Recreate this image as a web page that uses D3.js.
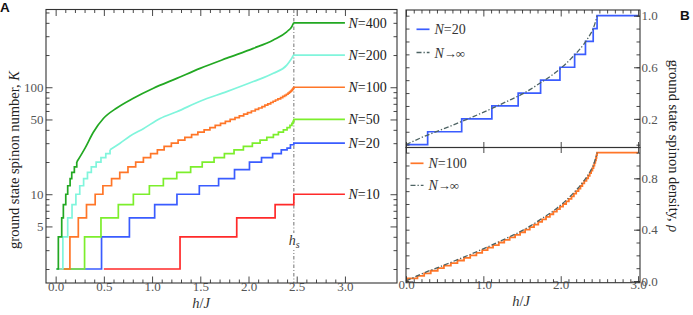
<!DOCTYPE html>
<html>
<head>
<meta charset="utf-8">
<script src="https://cdn.jsdelivr.net/npm/d3@7"></script>
<style>
  body { margin: 0; background: #fff; }
  svg { display: block; font-family: "Liberation Serif", serif; }
</style>
</head>
<body>
<svg id="chart" width="693" height="315"></svg>
<script>
// saturation field h_s / J
var hS = 2.47;

// panel A: ground state spinon number K vs h/J, each pair is [h, K] where a level starts
var kN10 = [[0.5, 2], [1.29, 4], [1.878, 6], [2.276, 8], [2.47, 10], [3.0, 10]];
var kN20 = [[0.01, 2], [0.476, 4], [0.765, 6], [1.027, 8], [1.258, 10], [1.49, 12], [1.69, 14],
  [1.855, 17], [2.01, 20], [2.135, 22], [2.25, 24], [2.34, 26], [2.40, 27], [2.435, 29],
  [2.47, 30], [3.0, 30]];
var kN50 = [[0.01, 2], [0.30, 4], [0.47, 6], [0.65, 8], [0.806, 10], [0.972, 12], [1.117, 14],
  [1.256, 16], [1.40, 18], [1.52, 20], [1.643, 22], [1.75, 24], [1.85, 26], [1.947, 28],
  [2.04, 30], [2.12, 32], [2.19, 34], [2.258, 36], [2.31, 38], [2.362, 40], [2.40, 42],
  [2.43, 44], [2.45, 46], [2.462, 48], [2.47, 50], [3.0, 50]];
var kN100 = [[0, 0], [0.02, 2], [0.148, 4], [0.235, 6], [0.32, 8], [0.41, 10], [0.49, 12],
  [0.58, 14], [0.665, 16], [0.75, 18], [0.83, 20], [0.91, 22], [0.985, 24], [1.055, 26],
  [1.125, 28], [1.20, 30], [1.27, 32], [1.34, 34], [1.41, 36], [1.475, 38], [1.54, 40],
  [1.60, 42], [1.655, 44], [1.71, 46], [1.76, 48], [1.81, 50], [1.86, 52], [1.905, 54],
  [1.95, 56], [1.99, 58], [2.03, 60], [2.07, 62], [2.105, 64], [2.14, 66], [2.17, 68],
  [2.20, 70], [2.23, 72], [2.255, 74], [2.28, 76], [2.305, 78], [2.333, 80], [2.355, 82],
  [2.375, 84], [2.393, 86], [2.41, 88], [2.424, 90], [2.436, 92], [2.447, 94], [2.456, 96],
  [2.463, 98], [2.47, 100], [3.0, 100]];
var kN200Steps = [[0.01, 2], [0.075, 4], [0.125, 6], [0.17, 8], [0.21, 10], [0.25, 12],
  [0.29, 14], [0.33, 16], [0.37, 18], [0.42, 20], [0.47, 22], [0.52, 24], [0.564, 26]];
var kN200Curve = [[0.564, 26], [0.668, 30], [0.772, 35], [0.91, 41], [1.083, 51], [1.256, 59],
  [1.498, 74], [1.775, 91], [2.05, 113], [2.258, 135], [2.397, 161], [2.449, 187],
  [2.47, 200], [3.0, 200]];
var kN400Steps = [[0.01, 2], [0.028, 4], [0.063, 6], [0.08, 8], [0.105, 10], [0.125, 12],
  [0.15, 14], [0.167, 16], [0.194, 18], [0.219, 20]];
var kN400Curve = [[0.219, 20], [0.305, 27], [0.391, 38], [0.495, 51], [0.634, 64], [0.806, 79],
  [1.014, 98], [1.256, 121], [1.498, 150], [1.775, 187], [2.05, 231], [2.258, 277],
  [2.397, 330], [2.449, 368], [2.47, 400], [3.0, 400]];

// panel B: spinon density rho
var rhoN20 = [[0, 0], [0.28, 0.1], [0.72, 0.2], [1.11, 0.3], [1.45, 0.4], [1.74, 0.5],
  [1.99, 0.6], [2.18, 0.7], [2.32, 0.8], [2.42, 0.9], [2.47, 1.0], [3.0, 1.0]];
var rhoInf = [[0, 0], [0.22, 0.06], [0.44, 0.112], [0.66, 0.165], [0.87, 0.217], [1.09, 0.275],
  [1.3, 0.334], [1.52, 0.398], [1.73, 0.476], [1.95, 0.567], [2.16, 0.683], [2.3, 0.78],
  [2.38, 0.853], [2.42, 0.9], [2.445, 0.944], [2.462, 0.98], [2.47, 1.0]];

// ticks
var xTickA = [0, 0.5, 1, 1.5, 2, 2.5, 3];
var xTickLabelA = ['0.0', '0.5', '1.0', '1.5', '2.0', '2.5', '3.0'];
var xMinorA = [0.1, 0.2, 0.3, 0.4, 0.6, 0.7, 0.8, 0.9, 1.1, 1.2, 1.3, 1.4, 1.6, 1.7, 1.8, 1.9,
  2.1, 2.2, 2.3, 2.4, 2.6, 2.7, 2.8, 2.9];
var yTickA = [5, 10, 50, 100];
var yTickLabelA = ['5', '10', '50', '100'];
var yMinorA = [2, 3, 4, 6, 7, 8, 9, 20, 30, 40, 60, 70, 80, 90, 200, 300, 400, 500];
var xTickB = [0, 1, 2, 3];
var xTickLabelB = ['0.0', '1.0', '2.0', '3.0'];
var xMinorB = [0.1, 0.2, 0.3, 0.4, 0.5, 0.6, 0.7, 0.8, 0.9, 1.1, 1.2, 1.3, 1.4, 1.5, 1.6, 1.7,
  1.8, 1.9, 2.1, 2.2, 2.3, 2.4, 2.5, 2.6, 2.7, 2.8, 2.9];
var yMinorB = [0, 0.1, 0.2, 0.3, 0.4, 0.5, 0.6, 0.7, 0.8, 0.9, 1.0];
var yTickBtop = [0.2, 0.6, 1.0];
var yTickLabelBtop = ['0.2', '0.6', '1.0'];
var yTickBbot = [0, 0.4, 0.8];
var yTickLabelBbot = ['0.0', '0.4', '0.8'];

var svg = d3.select('#chart');

var xA = d3.scaleLinear().domain([-0.1, 3.54]).range([46, 397]);
var yA = d3.scaleLog().domain([1.48, 533]).range([283, 9.5]);
var xB = d3.scaleLinear().domain([0, 3.025]).range([406, 640]);
var yBtop = d3.scaleLinear().domain([-0.022, 1.044]).range([147.5, 10]);
var yBbot = d3.scaleLinear().domain([-0.013, 1.04]).range([282.7, 147.5]);

function drawAxis(pos, gen, values, size, labels, pad) {
  var g = svg.append('g').attr('transform', pos)
    .call(gen.tickValues(values).tickSizeInner(-size).tickSizeOuter(0)
      .tickPadding(pad || 0)
      .tickFormat(function(d, i) { return labels ? labels[i] : ''; }));
  g.select('.domain').remove();
  g.attr('font-family', '"Liberation Serif", serif').attr('font-size', 13);
  g.selectAll('.tick line').attr('stroke', '#333').attr('stroke-width', 0.9);
  g.selectAll('.tick text').attr('fill', '#555');
  return g;
}

function frame(x0, y0, x1, y1) {
  svg.append('rect').attr('x', x0).attr('y', y0).attr('width', x1 - x0).attr('height', y1 - y0)
    .attr('fill', 'none').attr('stroke', '#333').attr('stroke-width', 1.1);
}

function stepLine(x, y) {
  return d3.line().defined(function(d) { return isFinite(y(d[1])); })
    .x(function(d) { return x(d[0]); }).y(function(d) { return y(d[1]); })
    .curve(d3.curveStepAfter);
}

function smoothLine(x, y) {
  return d3.line().x(function(d) { return x(d[0]); }).y(function(d) { return y(d[1]); })
    .curve(d3.curveMonotoneX);
}

function path(d, color, width, dash) {
  var p = svg.append('path').attr('d', d).attr('fill', 'none')
    .attr('stroke', color).attr('stroke-width', width);
  if (dash) p.attr('stroke-dasharray', dash);
  return p;
}

// ---------- panel A ----------
var stepA = stepLine(xA, yA);
var smoothA = smoothLine(xA, yA);

// h_s marker
path(d3.line()([[xA(hS), 9.5], [xA(hS), 283]]), '#8a8a8a', 1.2, '3.5,2,1,2');
svg.append('rect').attr('x', xA(hS) - 7).attr('y', 233).attr('width', 15).attr('height', 17)
  .attr('fill', '#fff');
var hsText = svg.append('text').attr('x', xA(hS) - 5).attr('y', 244.5)
  .attr('font-size', 14).attr('fill', '#333');
hsText.append('tspan').attr('font-style', 'italic').text('h');
hsText.append('tspan').attr('font-style', 'italic').attr('font-size', 10).attr('dy', 3).text('s');

var seriesA = [
  { steps: kN10, color: '#ff2a2a', label: '10', end: 10 },
  { steps: kN20, color: '#3a5cff', label: '20', end: 30 },
  { steps: kN50, color: '#7cee2c', label: '50', end: 50 },
  { steps: kN100, color: '#ff7628', label: '100', end: 100 },
  { steps: kN200Steps, curve: kN200Curve, color: '#80f5dc', label: '200', end: 200 },
  { steps: kN400Steps, curve: kN400Curve, color: '#22a822', label: '400', end: 400 }
];

seriesA.forEach(function(s) {
  path(stepA(s.steps), s.color, 1.7);
  if (s.curve) path(smoothA(s.curve), s.color, 1.7);
  var t = svg.append('text').attr('x', 348.5).attr('y', yA(s.end) + 5)
    .attr('font-size', 14).attr('fill', '#222');
  t.append('tspan').attr('font-style', 'italic').text('N');
  t.append('tspan').text('=' + s.label);
});

drawAxis('translate(0,283)', d3.axisBottom(xA), xMinorA, 3.5);
drawAxis('translate(0,283)', d3.axisBottom(xA), xTickA, 6.5, xTickLabelA, -1);
drawAxis('translate(0,9.5)', d3.axisTop(xA), xMinorA, 3.5);
drawAxis('translate(0,9.5)', d3.axisTop(xA), xTickA, 6.5);
drawAxis('translate(46,0)', d3.axisLeft(yA), yMinorA, 3.5);
drawAxis('translate(46,0)', d3.axisLeft(yA), yTickA, 6.5, yTickLabelA, 2.5);
drawAxis('translate(397,0)', d3.axisRight(yA), yMinorA, 3.5);
drawAxis('translate(397,0)', d3.axisRight(yA), yTickA, 6.5);
frame(46, 9.5, 397, 283);

var yLabA = svg.append('text').attr('transform', 'translate(19,160) rotate(-90)')
  .attr('text-anchor', 'middle').attr('font-size', 14.5).attr('fill', '#222');
yLabA.append('tspan').text('ground state spinon number, ');
yLabA.append('tspan').attr('font-style', 'italic').text('K');

var xLabA = svg.append('text').attr('x', 201).attr('y', 307.5).attr('text-anchor', 'middle')
  .attr('font-size', 14.5).attr('fill', '#333');
xLabA.append('tspan').attr('font-style', 'italic').text('h');
xLabA.append('tspan').text('/');
xLabA.append('tspan').attr('font-style', 'italic').text('J');

// ---------- panel B ----------
var infColor = '#4d6363';
var infDash = '5,2,1.3,2';

path(stepLine(xB, yBtop)(rhoN20), '#3a5cff', 1.7);
path(smoothLine(xB, yBtop)(rhoInf), infColor, 1.3, infDash);

var rhoN100 = kN100.map(function(d) { return [d[0], d[1] / 100]; });
path(stepLine(xB, yBbot)(rhoN100), '#ff7628', 1.8);
path(smoothLine(xB, yBbot)(rhoInf), infColor, 1.3, infDash);

drawAxis('translate(0,10)', d3.axisTop(xB), xMinorB, 3.5);
drawAxis('translate(0,10)', d3.axisTop(xB), xTickB, 6.5);
drawAxis('translate(0,147.5)', d3.axisBottom(xB), xTickB, 5.5);
drawAxis('translate(0,147.5)', d3.axisTop(xB), xTickB, 5.5);
drawAxis('translate(0,282.7)', d3.axisBottom(xB), xMinorB, 3.5);
drawAxis('translate(0,282.7)', d3.axisBottom(xB), xTickB, 6.5, xTickLabelB, -2.5);

drawAxis('translate(406,0)', d3.axisLeft(yBtop), yMinorB, 3.5);
drawAxis('translate(640,0)', d3.axisRight(yBtop), yMinorB, 3.5);
drawAxis('translate(640,0)', d3.axisRight(yBtop), yTickBtop, 6, yTickLabelBtop, 1.5);
drawAxis('translate(406,0)', d3.axisLeft(yBbot), yMinorB, 3.5);
drawAxis('translate(640,0)', d3.axisRight(yBbot), yMinorB, 3.5);
drawAxis('translate(640,0)', d3.axisRight(yBbot), yTickBbot, 6, yTickLabelBbot, 1.5);
frame(406, 10, 640, 147.5);
frame(406, 147.5, 640, 282.7);

function legend(x, y, color, dash, name, limit) {
  path(d3.line()([[x, y], [x + 13, y]]), color, dash ? 1.3 : 1.7, dash);
  var t = svg.append('text').attr('x', x + 18).attr('y', y + 5)
    .attr('font-size', 14).attr('fill', '#333');
  t.append('tspan').attr('font-style', 'italic').text('N');
  var rest = t.append('tspan').text(name);
  if (limit) rest.attr('font-size', 13).attr('letter-spacing', -1.2);
}
legend(416.5, 29.3, '#3a5cff', null, '=20');
legend(416.5, 52.5, infColor, infDash, '\u2192\u221e', true);
legend(410.5, 163.3, '#ff7628', null, '=100');
legend(410.5, 185.3, infColor, infDash, '\u2192\u221e', true);

var yLabB = svg.append('text').attr('transform', 'translate(669,146) rotate(90)')
  .attr('text-anchor', 'middle').attr('font-size', 14.5).attr('fill', '#222');
yLabB.append('tspan').text('ground state spinon density, ');
yLabB.append('tspan').attr('font-style', 'italic').text('\u03c1');

var xLabB = svg.append('text').attr('x', 521).attr('y', 306).attr('text-anchor', 'middle')
  .attr('font-size', 14.5).attr('fill', '#333');
xLabB.append('tspan').attr('font-style', 'italic').text('h');
xLabB.append('tspan').text('/');
xLabB.append('tspan').attr('font-style', 'italic').text('J');

// panel letters
svg.append('text').attr('x', 0).attr('y', 12).attr('font-family', '"Liberation Sans", Arial, sans-serif')
  .attr('font-weight', 'bold').attr('font-size', 13.5).attr('fill', '#111').text('A');
svg.append('text').attr('x', 680).attr('y', 20).attr('font-family', '"Liberation Sans", Arial, sans-serif')
  .attr('font-weight', 'bold').attr('font-size', 13.5).attr('fill', '#111').text('B');
</script>
</body>
</html>
